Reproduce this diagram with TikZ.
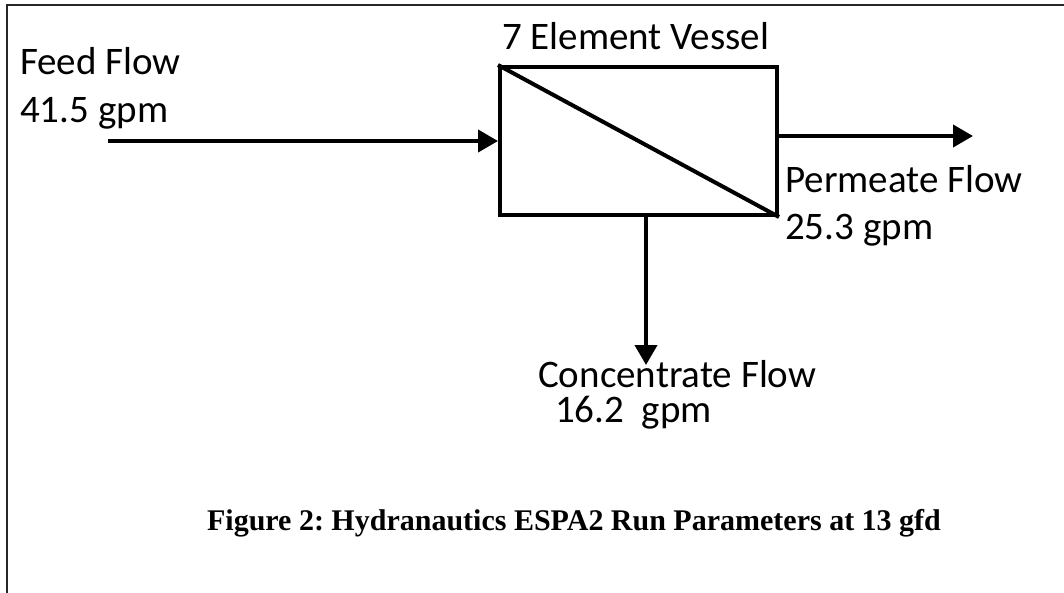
\documentclass[tikz,border=0pt]{standalone}
\usepackage{fontspec}
\setmainfont{Carlito}
\newfontfamily\capfont{Liberation Serif}
\usetikzlibrary{arrows.meta}
\frenchspacing
\begin{document}
\begin{tikzpicture}[x=1pt,y=-1pt,
  lbl/.style={anchor=base west,inner sep=0pt,font=\fontsize{39}{47}\selectfont},
  flow/.style={line width=4pt,-{Triangle[length=20pt,width=22pt]}},
  vessel/.style={draw,line width=4pt,minimum width=277pt,minimum height=148pt,inner sep=0pt}]
\useasboundingbox (0,0) rectangle (1064,593);
\draw[line width=2pt,black!85] (7,593) -- (7,5) -- (1064,5);
\node[vessel] (box) at (638.5,141) {};
\draw[line width=4pt] (box.north west) -- (box.south east);
\node[lbl] (title) at (502,50) {7 Element Vessel};
\node[lbl] (feed1) at (20,75) {Feed Flow};
\node[lbl] (feed2) at (20,123) {41.5 gpm};
\node[lbl] (perm1) at (785,193) {Permeate Flow};
\node[lbl] (perm2) at (785,240) {25.3 gpm};
\node[lbl] (conc1) at (538,387) {Concentrate Flow};
\node[lbl] (conc2) at (555,422) {16.2\ \ gpm};
\node[anchor=base,inner sep=0pt,font=\capfont\bfseries\fontsize{30}{36}\selectfont] (cap) at (574,530) {Figure 2: Hydranautics ESPA2 Run Parameters at 13 gfd};
\coordinate (fs) at (108,141);
\coordinate (pe) at (973,136);
\coordinate (ce) at (646,365);
\draw[flow] (fs) -- (box.west);
\draw[flow] (box.east |- pe) -- (pe);
\draw[flow] (box.south -| ce) -- (ce);
\end{tikzpicture}
\end{document}
